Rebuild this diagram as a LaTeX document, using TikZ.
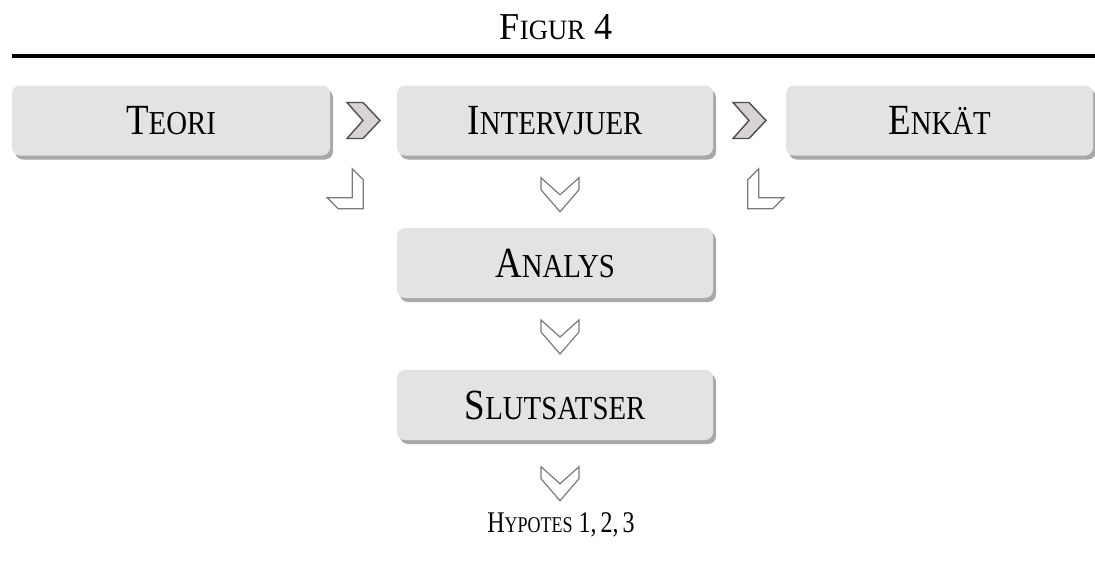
\documentclass[tikz,border=0pt]{standalone}
\usepackage{fontspec}
\setmainfont{Liberation Serif}
\usetikzlibrary{shadows,calc}
\definecolor{boxgray}{HTML}{E3E3E3}
\definecolor{shadowgray}{HTML}{A8A8A8}
\definecolor{chevfill}{HTML}{D8D4D4}
\definecolor{chevdraw}{HTML}{4D4D4D}
\definecolor{chevline}{HTML}{7A7A7A}
\newcommand\capsc[4]{{\fontsize{#1}{#1}\selectfont #3}{\fontsize{#2}{#2}\selectfont #4}}
\newcommand\boxlabel[2]{\scalebox{0.86}[1]{\capsc{43pt}{33.5pt}{#1}{#2}}}
\begin{document}
\begin{tikzpicture}[x=1pt,y=-1pt,
  stagebox/.style={rounded corners=8pt, fill=boxgray, draw=none, minimum height=70pt,
    inner sep=0pt,
    drop shadow={shadow xshift=3pt, shadow yshift=-4pt, fill=shadowgray, opacity=1}},
  chevfilled/.style={fill=chevfill, draw=chevdraw, line width=1.4pt, line join=miter},
  chevopen/.style={fill=white, draw=chevline, line width=1.2pt, line join=miter},
  rchev/.pic={\draw[chevfilled] (-16.5,-18) -- (-0.5,-18) -- (16.5,0) -- (-0.5,18) -- (-16.5,18) -- (-0.5,0) -- cycle;},
  dchev/.pic={\draw[chevopen] (-19,-17) -- (-19,-5) -- (0,17) -- (19,-5) -- (19,-17) -- (0,0) -- cycle;},
  cchev/.pic={\draw[chevopen] (7,-20) -- (18,-9) -- (18,20) -- (-7,20) -- (-18,9) -- (7,9) -- cycle;}
]
\useasboundingbox (0,0) rectangle (1095,560);

% title and rule
\node (title) at (556,27) {\scalebox{0.95}[1]{\capsc{38pt}{28pt}{F}{IGUR}{\fontsize{38pt}{38pt}\selectfont\ 4}}};
\coordinate (ruleL) at (12,56);
\coordinate (ruleR) at (1095,56);
\draw[line width=4pt] (ruleL) -- (ruleR);

% boxes
\node[stagebox, minimum width=318pt] (teori) at (171,120.5) {\boxlabel{T}{EORI}};
\node[stagebox, minimum width=316pt] (interv) at (555,120.5) {\boxlabel{I}{NTERVJUER}};
\node[stagebox, minimum width=307pt] (enkat) at (939.5,120.5) {\boxlabel{E}{NKÄT}};
\node[stagebox, minimum width=316pt] (analys) at (555,263) {\boxlabel{A}{NALYS}};
\node[stagebox, minimum width=316pt] (slut) at (555,405) {\boxlabel{S}{LUTSATSER}};

\node (hyp) at (561,525) {\scalebox{0.8}[1]{\capsc{30pt}{22.5pt}{H}{YPOTES}{\fontsize{30pt}{30pt}\selectfont\ 1,\,2,\,3}}};

% chevron connectors
\pic at ($(teori.east)!0.5!(interv.west)$) {rchev};
\pic at ($(interv.east)!0.5!(enkat.west)$) {rchev};
\pic at ($(teori.south east)+(15,33)$) {cchev};
\pic[xscale=-1] at ($(enkat.south west)+(-20,33)$) {cchev};
\pic at ($(interv.south)!0.5!(analys.north)+(5,3)$) {dchev};
\pic at ($(analys.south)!0.5!(slut.north)+(5,3)$) {dchev};
\pic at ($(slut.south)+(5,43.5)$) {dchev};
\end{tikzpicture}
\end{document}
